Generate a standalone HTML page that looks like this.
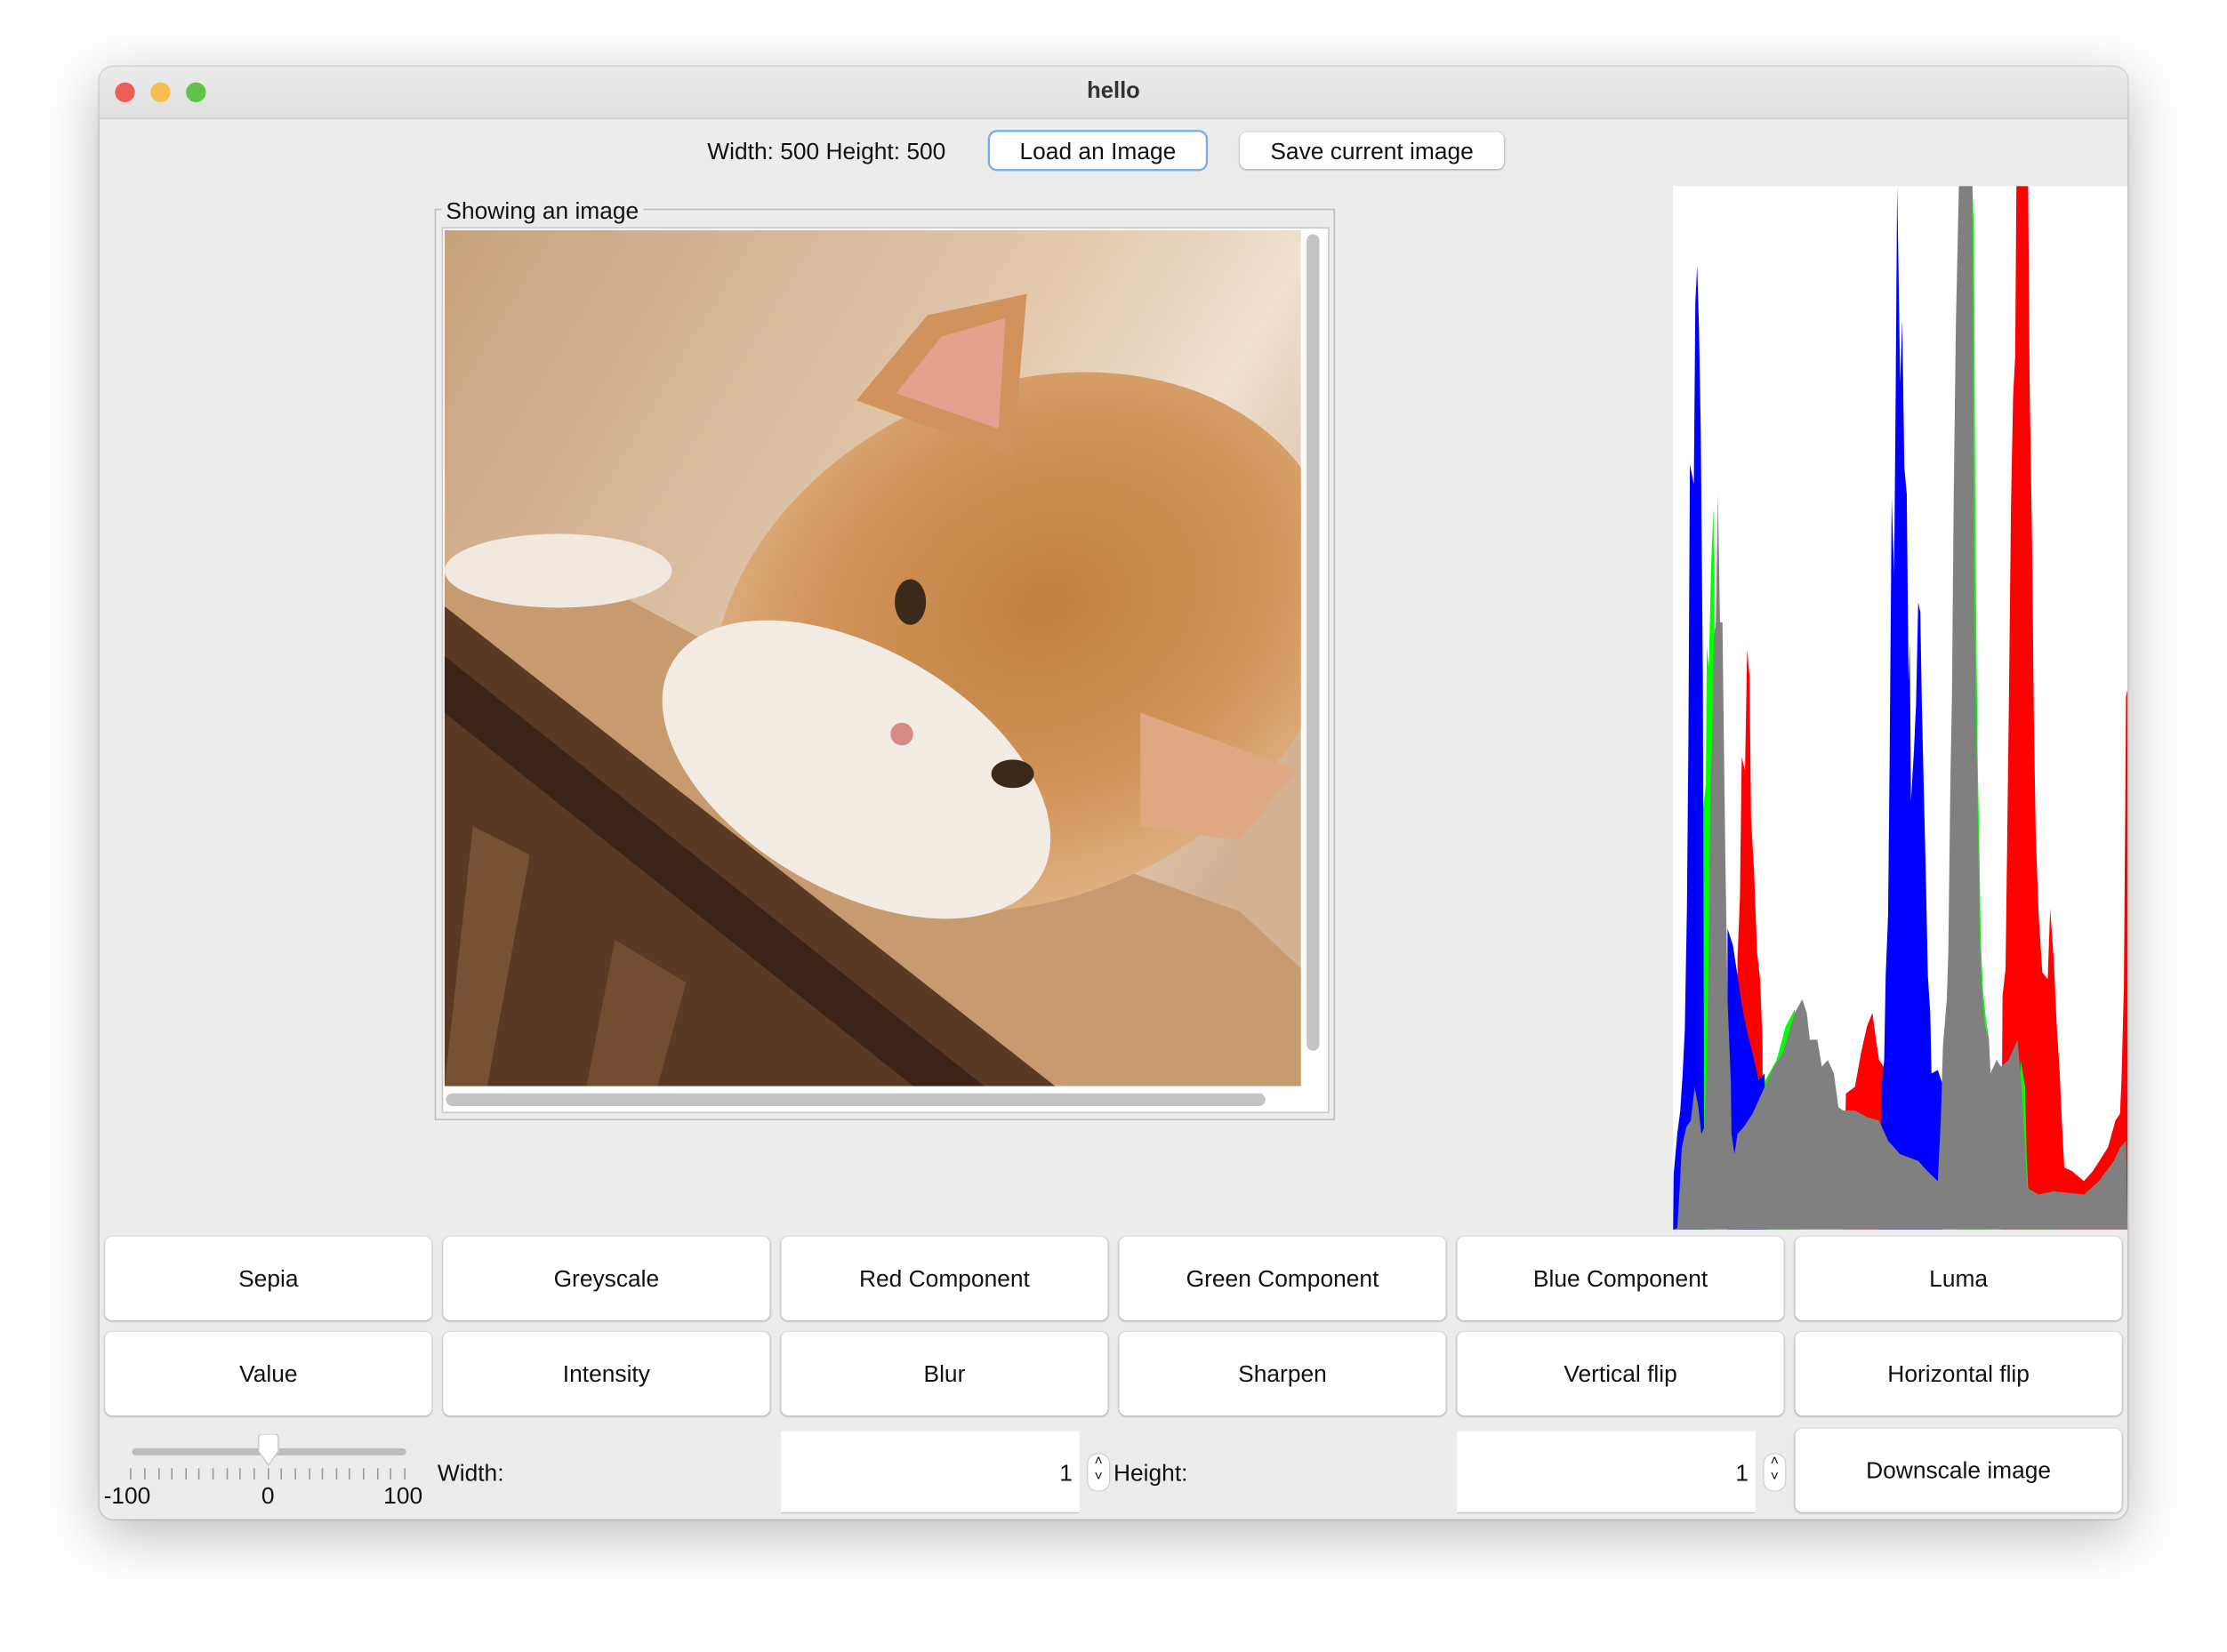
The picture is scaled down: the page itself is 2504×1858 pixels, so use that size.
<!DOCTYPE html>
<html><head><meta charset="utf-8"><style>
html,body{margin:0;padding:0;background:#fff;width:2504px;height:1858px;overflow:hidden}
#s{position:absolute;left:0;top:0;width:1568px;height:1163px;transform:scale(1.5969);transform-origin:0 0;font-family:"Liberation Sans","DejaVu Sans",sans-serif;color:#111}
.win{position:absolute;left:70px;top:47px;width:1428px;height:1023px;background:#ececec;border-radius:10px;box-shadow:0 10px 40px rgba(0,0,0,.28),0 0 0 1px rgba(0,0,0,.12);overflow:hidden}
.tb{position:absolute;left:0;top:0;width:100%;height:36px;background:linear-gradient(#ebebeb,#e0e0e0);border-bottom:1px solid #cfcfcf;text-align:center;line-height:36px;font-weight:bold;font-size:16px;color:#333}
.dot{position:absolute;top:11px;width:14px;height:14px;border-radius:50%}
.a{position:absolute}
.btn{position:absolute;background:#fff;border-radius:5px;box-shadow:0 0.5px 1.5px rgba(0,0,0,.35);text-align:center;font-size:16.5px}
.txt{position:absolute;font-size:16.5px;white-space:nowrap}
</style></head><body><div id="s">
<div class="win">
<div class="tb">hello</div>
<div class="dot" style="left:11px;background:#ed5e57"></div>
<div class="dot" style="left:36px;background:#f5be4f"></div>
<div class="dot" style="left:61px;background:#5ec44a"></div>
</div>
<div class="txt" style="left:498px;top:98px">Width: 500 Height: 500</div>
<div class="btn" style="left:697px;top:93px;width:152px;height:26px;line-height:28px;box-shadow:0 0 0 1.5px #7aaeea">Load an Image</div>
<div class="btn" style="left:873px;top:93px;width:186px;height:26px;line-height:28px">Save current image</div>

<div class="a" style="left:306px;top:147px;width:632px;height:640px;border:1px solid #bdbdbd"></div>
<div class="txt" style="left:311px;top:140px;background:#ececec;padding:0 3px">Showing an image</div>
<div class="a" style="left:311px;top:160px;width:623px;height:622px;background:#fff;border:1px solid #c8c8c8"></div>
<svg class="a" style="left:313px;top:162px" width="603" height="603" viewBox="0 0 603 603">
<defs>
<linearGradient id="bg" x1="0" y1="0" x2="1" y2="0.6"><stop offset="0" stop-color="#c7a27f"/><stop offset="0.55" stop-color="#e3c9ad"/><stop offset="0.75" stop-color="#efe0cf"/><stop offset="1" stop-color="#d2b293"/></linearGradient>
<radialGradient id="cat" cx="0.55" cy="0.45" r="0.6"><stop offset="0" stop-color="#c08040"/><stop offset="0.6" stop-color="#d2945a"/><stop offset="1" stop-color="#e0b587"/></radialGradient>
</defs>
<rect width="603" height="603" fill="url(#bg)"/>
<polygon points="0,240 110,250 260,330 420,430 560,480 603,520 603,603 0,603" fill="#c79b6f"/>
<ellipse cx="410" cy="290" rx="230" ry="180" transform="rotate(-25 410 290)" fill="url(#cat)"/>
<polygon points="290,120 340,60 410,45 400,160" fill="#d2925c"/>
<polygon points="318,115 350,75 395,62 390,140" fill="#e6a08e"/>
<polygon points="490,340 600,380 560,430 490,420" fill="#e0a882"/>
<ellipse cx="290" cy="380" rx="150" ry="85" transform="rotate(30 290 380)" fill="#f3ece4"/>
<ellipse cx="80" cy="240" rx="80" ry="26" fill="#f1e8df"/>
<ellipse cx="328" cy="262" rx="11" ry="16" fill="#3a2a1a"/>
<ellipse cx="400" cy="383" rx="15" ry="10" fill="#3a2a1a"/>
<circle cx="322" cy="355" r="8" fill="#d98a84"/>
<polygon points="0,265 430,603 0,603" fill="#5a3a25"/>
<polygon points="0,300 380,603 330,603 0,340" fill="#3b2417"/>
<polygon points="20,420 60,440 30,603 0,603" fill="#8a6040" opacity=".6"/>
<polygon points="120,500 170,530 150,603 100,603" fill="#8a6040" opacity=".5"/>
</svg>
<div class="a" style="left:920px;top:165px;width:9px;height:575px;background:#c4c4c4;border-radius:5px"></div>
<div class="a" style="left:314px;top:770px;width:577px;height:9px;background:#c4c4c4;border-radius:5px"></div>

<svg class="a" style="left:1178px;top:131px" width="320" height="735" viewBox="36 12 1509 1550" preserveAspectRatio="none">
<rect x="36" y="12" width="1509" height="1550" fill="#fff"/>
<polygon fill="#f00" points="250,1562 250,1160 258,1070 264,860 275,880 282,700 290,740 295,950 305,1030 315,1150 325,1190 333,1280 335,1562"/>
<polygon fill="#f00" points="600,1562 610,1360 640,1350 660,1300 680,1260 698,1240 710,1280 720,1310 735,1320 740,1562"/>
<polygon fill="#f00" points="1125,1562 1130,1215 1140,1175 1145,1000 1152,745 1158,490 1165,325 1172,265 1176,12 1215,12 1220,310 1228,540 1234,800 1240,970 1250,1095 1262,1180 1280,1190 1288,1085 1300,1160 1310,1260 1320,1330 1328,1410 1335,1470 1360,1475 1400,1490 1430,1475 1480,1440 1505,1400 1520,1390 1525,1340 1533,1200 1540,770 1545,760 1545,1562"/>
<polygon fill="#0f0" points="100,1562 105,1340 120,1290 128,1160 135,940 145,900 148,695 155,730 162,580 170,490 176,780 180,1562"/>
<polygon fill="#0f0" points="235,1562 240,1420 260,1390 300,1380 330,1350 380,1310 410,1260 440,1235 460,1562"/>
<polygon fill="#0f0" points="975,1562 995,240 1000,12 1030,12 1035,80 1040,520 1047,850 1053,995 1058,1135 1065,1205 1075,1250 1085,1280 1090,1562"/>
<polygon fill="#0f0" points="1180,1562 1190,1310 1205,1350 1210,1450 1215,1500 1260,1520 1300,1562"/>
<polygon fill="#00f" points="36,1562 38,1480 50,1420 60,1385 68,1330 75,1265 82,1085 87,835 92,425 105,455 110,185 116,130 122,220 128,375 135,745 140,1562"/>
<polygon fill="#00f" points="215,1562 217,1115 235,1140 245,1170 265,1230 280,1265 300,1300 320,1340 340,1330 345,1562"/>
<polygon fill="#00f" points="725,1562 728,1350 737,1310 742,1185 750,1095 755,870 762,475 770,590 775,330 780,12 784,115 790,305 797,210 804,430 812,470 818,750 822,690 826,925 836,850 843,780 850,630 857,645 862,780 870,935 876,1050 882,1185 890,1240 894,1330 915,1325 930,1345 932,1562"/>
<polygon fill="#808080" points="36,1562 50,1560 58,1500 65,1440 80,1410 95,1400 100,1380 108,1350 120,1380 130,1420 140,1410 148,1320 155,1120 160,900 165,845 172,680 178,660 185,470 192,660 200,660 205,845 210,1020 217,1220 228,1345 230,1420 240,1450 250,1420 270,1410 300,1390 330,1360 370,1320 400,1300 420,1270 440,1240 465,1220 480,1240 490,1280 515,1280 530,1320 550,1310 570,1330 585,1380 600,1385 640,1385 680,1395 720,1400 750,1430 790,1450 850,1460 880,1475 915,1490 925,1400 932,1290 945,1220 950,1150 957,890 962,770 968,470 975,220 985,12 1030,12 1033,380 1035,600 1043,820 1050,1000 1055,1135 1062,1210 1070,1255 1085,1280 1090,1330 1110,1310 1125,1320 1150,1310 1180,1280 1195,1360 1212,1500 1250,1510 1300,1505 1400,1510 1450,1490 1500,1460 1520,1440 1540,1430 1545,1562"/>
</svg>

<div class="btn" style="left:74px;top:871px;width:230px;height:59px;line-height:61px">Sepia</div>
<div class="btn" style="left:312px;top:871px;width:230px;height:59px;line-height:61px">Greyscale</div>
<div class="btn" style="left:550px;top:871px;width:230px;height:59px;line-height:61px">Red Component</div>
<div class="btn" style="left:788px;top:871px;width:230px;height:59px;line-height:61px">Green Component</div>
<div class="btn" style="left:1026px;top:871px;width:230px;height:59px;line-height:61px">Blue Component</div>
<div class="btn" style="left:1264px;top:871px;width:230px;height:59px;line-height:61px">Luma</div>
<div class="btn" style="left:74px;top:938px;width:230px;height:59px;line-height:61px">Value</div>
<div class="btn" style="left:312px;top:938px;width:230px;height:59px;line-height:61px">Intensity</div>
<div class="btn" style="left:550px;top:938px;width:230px;height:59px;line-height:61px">Blur</div>
<div class="btn" style="left:788px;top:938px;width:230px;height:59px;line-height:61px">Sharpen</div>
<div class="btn" style="left:1026px;top:938px;width:230px;height:59px;line-height:61px">Vertical flip</div>
<div class="btn" style="left:1264px;top:938px;width:230px;height:59px;line-height:61px">Horizontal flip</div>

<div class="a" style="left:93px;top:1020px;width:193px;height:5px;background:#bdbdbd;border-radius:3px"></div>
<svg class="a" style="left:88px;top:1010px" width="205" height="35">
<path d="M94,3 Q94,0 97,0 L105,0 Q108,0 108,3 L108,12 L101,22 L94,12 Z" fill="#fff" stroke="#ccc"/>
<g stroke="#999" stroke-width="1">
<path d="M4,24v8M14,24v8M24,24v8M33,24v8M43,24v8M52,24v8M62,24v8M72,24v8M81,24v8M91,24v8M101,24v8M110,24v8M120,24v8M130,24v8M139,24v8M149,24v8M158,24v8M168,24v8M178,24v8M187,24v8M197,24v8"/>
</g></svg>
<div class="txt" style="left:73px;top:1045px">-100</div>
<div class="txt" style="left:184px;top:1045px">0</div>
<div class="txt" style="left:270px;top:1045px">100</div>
<div class="txt" style="left:308px;top:1029px">Width:</div>
<div class="a" style="left:550px;top:1008px;width:210px;height:57px;background:#fff;border-bottom:1px solid #c8c8c8"></div>
<div class="txt" style="left:746px;top:1029px">1</div>
<div class="a" style="left:766px;top:1024px;width:15px;height:26px;background:#fff;border-radius:7px;box-shadow:0 0 1px rgba(0,0,0,.5);font-size:10px;text-align:center;line-height:11px">˄<br>˅</div>
<div class="txt" style="left:784px;top:1029px">Height:</div>
<div class="a" style="left:1026px;top:1008px;width:210px;height:57px;background:#fff;border-bottom:1px solid #c8c8c8"></div>
<div class="txt" style="left:1222px;top:1029px">1</div>
<div class="a" style="left:1242px;top:1024px;width:15px;height:26px;background:#fff;border-radius:7px;box-shadow:0 0 1px rgba(0,0,0,.5);font-size:10px;text-align:center;line-height:11px">˄<br>˅</div>
<div class="btn" style="left:1264px;top:1006px;width:230px;height:59px;line-height:61px">Downscale image</div>
</div></body></html>
